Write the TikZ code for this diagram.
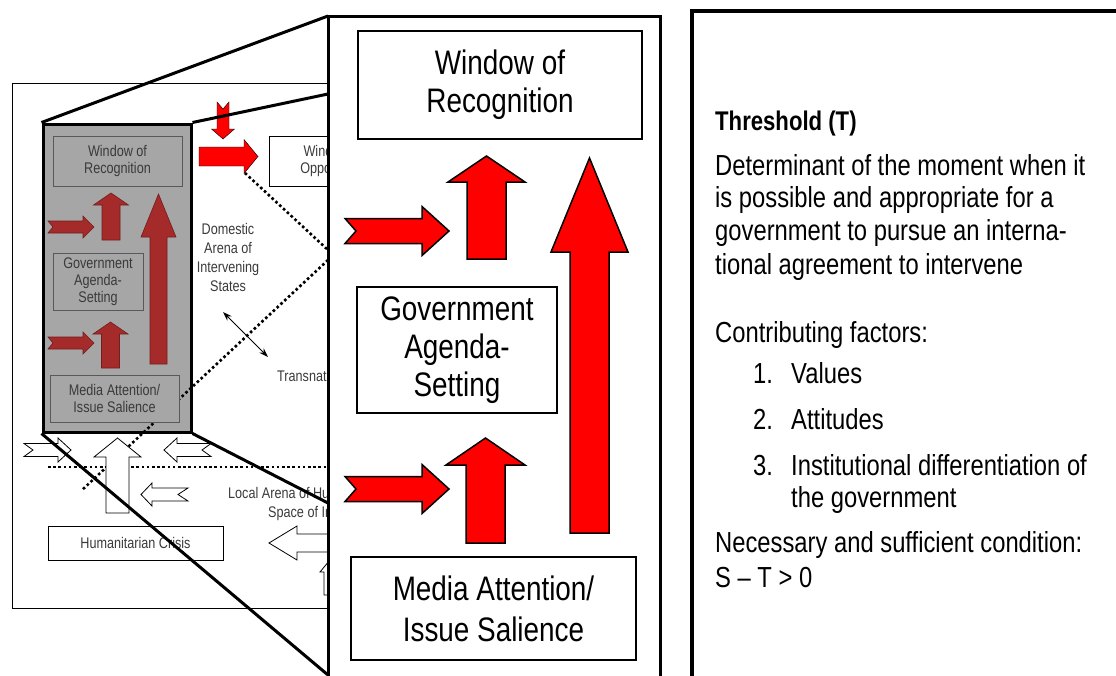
\documentclass[tikz,border=0pt]{standalone}
\usepackage{fontspec}
\setmainfont{Liberation Sans}[FakeStretch=0.82]
\usetikzlibrary{arrows.meta}

\definecolor{boxgray}{HTML}{A6A6A6}
\definecolor{arrowred}{HTML}{FF0000}
\definecolor{darkarrow}{HTML}{A52A2A}
\definecolor{fadedtext}{HTML}{3A3A3A}

% block arrow pointing up or down: style, x, tip y, head base y, tail y, head half, shaft half, notch
\newcommand{\vertarrow}[8]{%
  \draw[#1] (#2,#3) -- (#2+#6,#4) -- (#2+#7,#4) -- (#2+#7,#5) -- (#2,#5+#8)
    -- (#2-#7,#5) -- (#2-#7,#4) -- (#2-#6,#4) -- cycle;}
% block arrow pointing left or right: style, tail x, head base x, tip x, y, head half, shaft half, notch
\newcommand{\sidearrow}[8]{%
  \draw[#1] (#2,#5-#7) -- (#3,#5-#7) -- (#3,#5-#6) -- (#4,#5) -- (#3,#5+#6)
    -- (#3,#5+#7) -- (#2,#5+#7) -- (#2+#8,#5) -- cycle;}

\begin{document}
\begin{tikzpicture}[x=1pt, y=-1pt,
    bigbox/.style={draw, line width=1.5pt, fill=white, align=center, inner sep=0pt,
      font=\fontsize{34}{38}\selectfont},
    lensbox/.style={draw=black!65, line width=0.8pt, fill=boxgray, align=center,
      inner sep=0pt, text=fadedtext, font=\fontsize{15.4}{17}\selectfont},
    scenebox/.style={draw, line width=0.8pt, fill=white, align=center, inner sep=0pt,
      text=fadedtext, font=\fontsize{15.4}{17}\selectfont},
    scenetext/.style={align=center, inner sep=0pt, text=fadedtext,
      font=\fontsize{15.4}{19}\selectfont},
    bodytext/.style={anchor=base west, inner sep=0pt, font=\fontsize{29}{33}\selectfont},
    redarrow/.style={fill=arrowred, draw=black, line width=1.5pt},
    lensarrow/.style={fill=darkarrow, draw=darkarrow!70!black, line width=0.6pt},
    flatred/.style={fill=arrowred},
    openarrow/.style={fill=white, draw=black, line width=0.8pt},
    perspective/.style={line width=3pt},
    dotline/.style={line width=2.6pt, dash pattern=on 2.6pt off 2.6pt}
  ]
  \useasboundingbox (0,0) rectangle (1116,675);
  \clip (0,0) rectangle (1116,675);

  % scene seen through the lens
  \draw[line width=1pt] (12,83) rectangle (340,608);
  \node[scenebox, minimum width=128pt, minimum height=50pt] (opportunity) at (333,161) {Window of\\Opportunity};
  \node[scenebox, minimum width=175pt, minimum height=34pt] (crisis) at (135.5,543) {Humanitarian Crisis};
  \node[scenetext] (domestic) at (228,257) {Domestic\\Arena of\\Intervening\\States};
  \node[scenetext, anchor=base west] (transnat) at (277,381) {Transnational};
  \node[scenetext, anchor=base west] (localA) at (228,498) {Local Arena of Humanitarian};
  \node[scenetext, anchor=base west] (localB) at (268,517) {Space of Intervention};

  % the lens
  \node[draw, line width=3pt, fill=boxgray, minimum width=148pt, minimum height=308pt] (lens) at (117,278) {};

  \coordinate (dotA) at (245,173);
  \coordinate (dotB) at (328,250);
  \coordinate (dotC) at (328,260);
  \coordinate (dotD) at (82,490);
  \coordinate (dotE) at (48,467);
  \coordinate (dotF) at (340,467);
  \draw[dotline] (dotA) -- (dotB);
  \draw[dotline] (dotC) -- (dotD);
  \draw[dotline] (dotE) -- (dotF);

  \node[lensbox, minimum width=129pt, minimum height=50pt] (smallwindow) at (117.5,161) {Window of\\Recognition};
  \node[lensbox, minimum width=90pt, minimum height=57pt] (smallagenda) at (98,281.5) {Government\\Agenda-\\Setting};
  \node[lensbox, minimum width=129pt, minimum height=47pt] (smallmedia) at (114.5,398.5) {Media Attention/\\Issue Salience};

  \sidearrow{lensarrow}{48}{83}{94}{227}{11}{6}{5}
  \sidearrow{lensarrow}{48}{83}{94}{343}{11}{6}{5}
  \vertarrow{lensarrow}{111}{193}{205}{240}{17.5}{9}{0}
  \vertarrow{lensarrow}{110.5}{322}{334}{368}{17.5}{9}{0}
  \vertarrow{lensarrow}{158.5}{194}{237}{364}{17.5}{8.5}{0}

  % arrows of the scene
  \vertarrow{openarrow}{117.5}{438}{457}{513}{23.5}{11.5}{0}
  \vertarrow{openarrow}{334}{555}{572}{595}{14}{10}{0}
  \sidearrow{openarrow}{24}{58}{71}{450}{12}{6.5}{9}
  \sidearrow{openarrow}{211}{177}{164}{450}{12}{6.5}{-9}
  \sidearrow{openarrow}{188}{152}{141}{494.5}{11.5}{6.5}{-10}
  \sidearrow{openarrow}{360}{297}{269}{543}{17}{9}{0}
  \sidearrow{flatred}{199}{244}{258}{156.5}{17}{9.5}{0}
  \vertarrow{flatred}{223}{139}{129}{102}{11.5}{6}{7}

  \coordinate (dblA) at (223,312);
  \coordinate (dblB) at (268,357);
  \draw[<->, >={Stealth[length=9pt, width=6pt]}, line width=1pt] (dblA) -- (dblB);

  % projection of the lens
  \coordinate (zoomA) at (328,16);
  \coordinate (zoomB) at (328,94);
  \coordinate (zoomC) at (328,675);
  \coordinate (zoomD) at (328,503);
  \draw[perspective] (lens.north west) -- (zoomA);
  \draw[perspective] (lens.north east) -- (zoomB);
  \draw[perspective] (lens.south west) -- (zoomC);
  \draw[perspective] (lens.south east) -- (zoomD);

  % enlarged view
  \node[draw, line width=3pt, fill=white, anchor=north west, outer sep=0pt, inner sep=0pt,
    minimum width=332pt, minimum height=700pt] (zoompanel) at (zoomA) {};
  \node[bigbox, minimum width=284pt, minimum height=108pt] (window) at (500,85) {Window of\\Recognition};
  \node[bigbox, minimum width=200pt, minimum height=126pt] (agenda) at (457,350) {Government\\Agenda-\\Setting};
  \node[bigbox, minimum width=285pt, minimum height=103pt, font=\fontsize{34}{41}\selectfont] (media) at (493.5,608.5) {Media Attention/\\Issue Salience};

  \vertarrow{redarrow}{486.5}{156}{182}{259}{38.5}{19.5}{0}
  \vertarrow{redarrow}{485.5}{438}{465}{543}{39.5}{19.5}{0}
  \vertarrow{redarrow}{589.5}{158}{252}{533}{38.5}{19.5}{0}
  \sidearrow{redarrow}{345}{422}{449}{231}{24.5}{12.5}{11}
  \sidearrow{redarrow}{345}{422}{449}{489}{24.5}{12.5}{11}

  % threshold panel
  \draw[line width=4.5pt] (692,700) -- (692,11) -- (1130,11);
  \node[bodytext, font=\bfseries\fontsize{27}{31}\selectfont] (thtitle) at (715,130) {Threshold (T)};
  \foreach \txt/\yy [count=\i] in {Determinant of the moment when it/175,
      is possible and appropriate for a/207,
      government to pursue an interna-/240,
      tional agreement to intervene/274}
    \node[bodytext] (defline\i) at (715,\yy) {\txt};
  \node[bodytext] (factors) at (715,342) {Contributing factors:};
  \node[bodytext] (numA) at (753,383) {1.};
  \node[bodytext] (itemA) at (791,383) {Values};
  \node[bodytext] (numB) at (753,429) {2.};
  \node[bodytext] (itemB) at (791,429) {Attitudes};
  \node[bodytext] (numC) at (753,475) {3.};
  \node[bodytext] (itemC) at (791,475) {Institutional differentiation of};
  \node[bodytext] (itemD) at (791,507) {the government};
  \node[bodytext] (condA) at (715,552) {Necessary and sufficient condition:};
  \node[bodytext] (condB) at (715,587) {S – T > 0};
\end{tikzpicture}
\end{document}
